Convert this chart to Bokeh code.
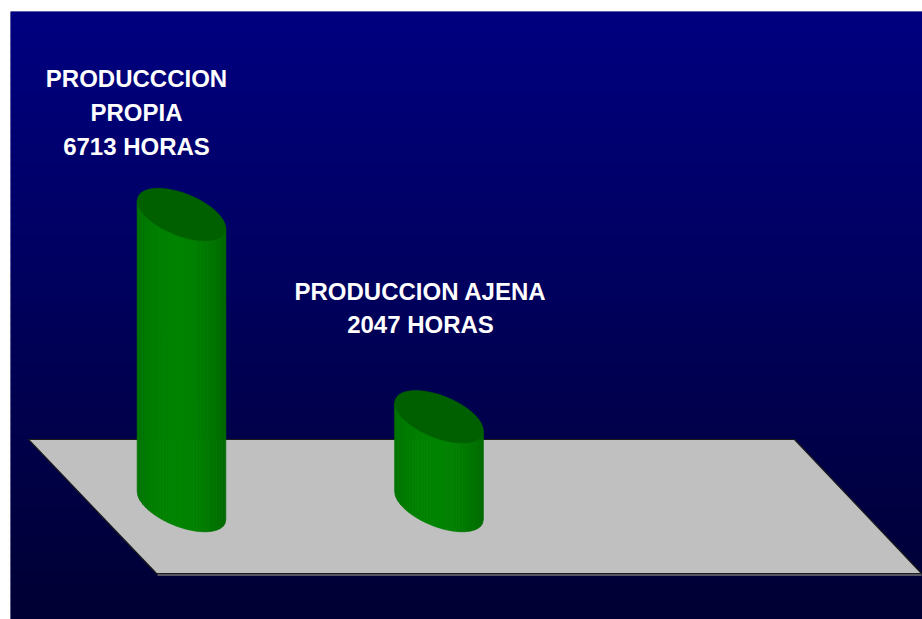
import numpy as np
from bokeh.plotting import figure
from bokeh.models import Range1d
from bokeh.core.properties import value
from bokeh.embed import file_html
from bokeh.resources import INLINE

# ---------------- data ----------------
categories = ["PRODUCCCION PROPIA", "PRODUCCION AJENA"]
hours = [6713, 2047]
label_lines = [["PRODUCCCION", "PROPIA", "6713 HORAS"],
               ["PRODUCCION AJENA", "2047 HORAS"]]

# ---------------- layout (screen pixels) ----------------
PX_L, PX_R, PX_T, PX_B = 10, 922, 11, 619
BASE_PY = 505          # screen y of the centre of the cylinders' base ellipse
K = 23.07              # hours per screen pixel
CX0, CX_STEP = 181, 257.5
ELL_A, ELL_B, ELL_TH = 47.0, 21.0, np.radians(22)
label_cx = [136, 420]
label_base = [[78, 112, 146], [291, 324]]


def Y(py):
    return (BASE_PY - py) * K


p = figure(width=922, height=619, output_backend="svg", toolbar_location=None,
           x_range=Range1d(PX_L, PX_R), y_range=Range1d(Y(PX_B), Y(PX_T)),
           x_axis_location=None, y_axis_location=None,
           min_border_left=10, min_border_top=11, min_border_right=0, min_border_bottom=0,
           border_fill_color="white", outline_line_color=None)
p.grid.visible = False
p.background_fill_color = "#000060"

# background gradient
n_bands = 76
band_h = (PX_B - PX_T) / n_bands
tops, bots, cols = [], [], []
for i in range(n_bands):
    t = i / (n_bands - 1)
    blue = int(round(128 + (52 - 128) * t))
    cols.append("#0000%02x" % blue)
    tops.append(Y(PX_T + i * band_h))
    bots.append(Y(PX_T + (i + 1) * band_h + 1))
p.quad(left=PX_L, right=PX_R, top=tops, bottom=bots, fill_color=cols, line_color=None)

# floor
floor_px = [28, 794, 921, 156]
floor_py = [439, 439, 573, 573]
p.patch(x=floor_px, y=[Y(v) for v in floor_py], fill_color="#c0c0c0",
        line_color="#1c1c1c", line_width=1.2)
p.line(x=[157, 921], y=[Y(574.5), Y(574.5)], line_color="#707070", line_width=1.5)

# ellipse helpers (screen coords, y down)
c, s = np.cos(ELL_TH), np.sin(ELL_TH)
A = s * s / ELL_A ** 2 + c * c / ELL_B ** 2
HW = np.sqrt(ELL_A ** 2 * c * c + ELL_B ** 2 * s * s)


def arc(u, lower=True):
    B = 2 * u * c * s * (1 / ELL_A ** 2 - 1 / ELL_B ** 2)
    C = u * u * (c * c / ELL_A ** 2 + s * s / ELL_B ** 2) - 1
    d = np.sqrt(np.maximum(B * B - 4 * A * C, 0))
    return (-B + d) / (2 * A) if lower else (-B - d) / (2 * A)


def mid(u):
    B = 2 * u * c * s * (1 / ELL_A ** 2 - 1 / ELL_B ** 2)
    return -B / (2 * A)


def shade(t):
    g = 0x62 + (0x84 - 0x62) * np.sin(np.pi * min(max(t * 0.85 + 0.12, 0), 1)) ** 0.7
    return "#00%02x00" % int(round(g))


tt = np.linspace(0, 2 * np.pi, 120)
ex = ELL_A * c * np.cos(tt) - ELL_B * s * np.sin(tt)
ey = ELL_A * s * np.cos(tt) + ELL_B * c * np.sin(tt)

n_strips = 30
for i, v in enumerate(hours):
    cx = CX0 + i * CX_STEP
    top_py = BASE_PY - v / K
    xs, ys, fc = [], [], []
    edges = np.linspace(-HW, HW, n_strips + 1)
    for j in range(n_strips):
        u0, u1 = edges[j], edges[j + 1]
        uu = np.linspace(u0, u1, 6)
        bx = list(cx + uu)
        by = list(BASE_PY + arc(uu, True))
        px = [cx + u0] + [cx + u1] + bx[::-1]
        py = [top_py + mid(u0)] + [top_py + mid(u1)] + by[::-1]
        xs.append(px)
        ys.append([Y(q) for q in py])
        fc.append(shade((j + 0.5) / n_strips))
    p.patches(xs=xs, ys=ys, fill_color=fc, line_color=fc, line_width=0.8)
    # top ellipse
    p.patch(x=list(cx + ex), y=[Y(top_py + q) for q in ey], fill_color="#006000",
            line_color="#006000", line_width=0.5)

# labels
for i, lines in enumerate(label_lines):
    p.text(x=[label_cx[i]] * len(lines), y=[Y(b) for b in label_base[i]], text=lines,
           text_font=value("Liberation Sans"), text_font_style="bold",
           text_font_size="24px", text_color="white", text_align="center",
           text_baseline="alphabetic")

open("out.html", "w").write(file_html(p, INLINE))
